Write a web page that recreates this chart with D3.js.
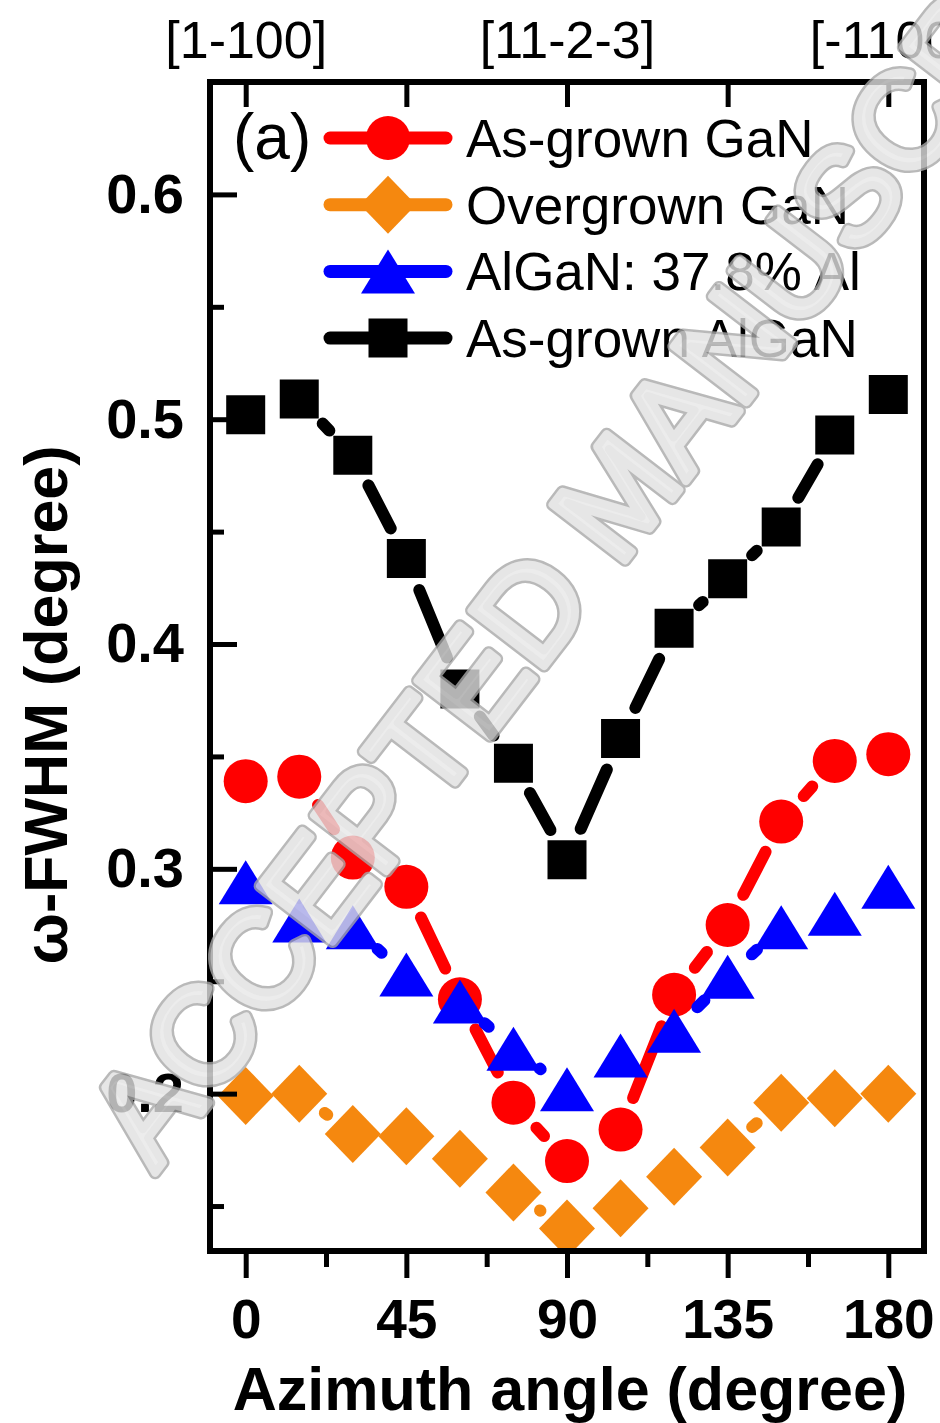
<!DOCTYPE html>
<html>
<head>
<meta charset="utf-8">
<script src="https://cdn.jsdelivr.net/npm/d3@7"></script>
<style>
  body { margin: 0; background: #fff; }
  svg { display: block; font-family: "Liberation Sans", Arial, sans-serif; }
</style>
</head>
<body>
<div id="vis-holder"></div>
<script>
// chart data
const angles = [0, 15, 30, 45, 60, 75, 90, 105, 120, 135, 150, 165, 180];
const asGrownGaN   = [0.339, 0.341, 0.305, 0.292, 0.242, 0.196, 0.170, 0.184, 0.244, 0.275, 0.321, 0.348, 0.351];
const overgrownGaN = [0.199, 0.200, 0.182, 0.181, 0.171, 0.156, 0.140, 0.149, 0.163, 0.176, 0.196, 0.198, 0.200];
const alGaN378     = [0.294, 0.277, 0.274, 0.253, 0.241, 0.220, 0.202, 0.217, 0.228, 0.252, 0.274, 0.280, 0.292];
const asGrownAlGaN = [0.502, 0.509, 0.484, 0.438, 0.380, 0.347, 0.304, 0.358, 0.407, 0.429, 0.452, 0.493, 0.511];

const seriesNames = ["As-grown GaN", "Overgrown GaN", "AlGaN: 37.8% Al", "As-grown AlGaN"];
const seriesColors = ["#ff0000", "#f5880f", "#0000ff", "#000000"];
const seriesShapes = ["circle", "diamond", "triangle", "square"];
const seriesValues = [asGrownGaN, overgrownGaN, alGaN378, asGrownAlGaN];

const xMajorTicks = [0, 45, 90, 135, 180];
const xMinorTicks = [22.5, 67.5, 112.5, 157.5];
const yMajorTicks = [0.2, 0.3, 0.4, 0.5, 0.6];
const yMinorTicks = [0.15, 0.25, 0.35, 0.45, 0.55];
const topLabels = {0: "[1-100]", 90: "[11-2-3]", 180: "[-1100]"};

const width = 940, height = 1423;
const plot = { left: 210, right: 924, top: 82, bottom: 1251 };

const svg = d3.select("#vis-holder")
  .append("svg")
  .attr("width", width)
  .attr("height", height);

const x = d3.scaleLinear().domain([-10, 190]).range([plot.left, plot.right]);
const y = d3.scaleLinear().domain([0.13, 0.65]).range([plot.bottom, plot.top]);

// clip for the data marks
svg.append("clipPath").attr("id", "plotclip")
  .append("rect")
  .attr("x", plot.left).attr("y", plot.top)
  .attr("width", plot.right - plot.left).attr("height", plot.bottom - plot.top);

// marker paths centred on 0,0
function markerPath(shape) {
  if (shape === "circle") {
    const r = 22;
    return `M${-r},0A${r},${r} 0 1,0 ${r},0A${r},${r} 0 1,0 ${-r},0Z`;
  }
  if (shape === "square") {
    const h = 19.5;
    return `M${-h},${-h}H${h}V${h}H${-h}Z`;
  }
  if (shape === "diamond") {
    const w = 28, v = 29;
    return `M0,${-v}L${w},0L0,${v}L${-w},0Z`;
  }
  // triangle, bounding box centred
  const w = 27, h = 22;
  return `M0,${-h}L${w},${h}L${-w},${h}Z`;
}

const dataLayer = svg.append("g").attr("clip-path", "url(#plotclip)");

seriesValues.forEach((vals, si) => {
  const pts = angles.map((a, i) => [x(a), y(vals[i])]);
  const g = dataLayer.append("g");
  const gap = si === 1 ? 32 : (si === 2 ? 33 : 34);

  // Origin style: line segments cut back from each symbol
  const segs = [];
  for (let i = 0; i < pts.length - 1; i++) {
    const [x1, y1] = pts[i], [x2, y2] = pts[i + 1];
    const dx = x2 - x1, dy = y2 - y1;
    const d = Math.hypot(dx, dy);
    if (d <= 2 * gap) continue;
    const ux = dx / d, uy = dy / d;
    segs.push([x1 + ux * gap, y1 + uy * gap, x2 - ux * gap, y2 - uy * gap]);
  }
  g.selectAll("line")
    .data(segs)
    .enter()
    .append("line")
    .attr("x1", d => d[0]).attr("y1", d => d[1])
    .attr("x2", d => d[2]).attr("y2", d => d[3])
    .attr("stroke", seriesColors[si])
    .attr("stroke-width", 12)
    .attr("stroke-linecap", "round");

  g.selectAll("path")
    .data(pts)
    .enter()
    .append("path")
    .attr("d", markerPath(seriesShapes[si]))
    .attr("transform", d => `translate(${d[0]},${d[1]})`)
    .attr("fill", seriesColors[si]);
});

// frame
svg.append("rect")
  .attr("x", plot.left).attr("y", plot.top)
  .attr("width", plot.right - plot.left).attr("height", plot.bottom - plot.top)
  .attr("fill", "none")
  .attr("stroke", "#000")
  .attr("stroke-width", 6);

function styleAxis(g) {
  g.select(".domain").remove();
  g.selectAll(".tick line").attr("stroke", "#000").attr("stroke-width", 5);
}

// bottom axis, ticks outward
svg.append("g")
  .attr("transform", `translate(0,${plot.bottom})`)
  .call(d3.axisBottom(x).tickValues(xMajorTicks).tickSize(27).tickPadding(21).tickFormat(d3.format("d")))
  .call(styleAxis)
  .call(g => g.selectAll("text")
    .attr("fill", "#000")
    .attr("font-size", "55px")
    .attr("font-weight", "bold")
    .attr("font-family", "Liberation Sans, Arial, sans-serif"));

svg.append("g")
  .attr("transform", `translate(0,${plot.bottom})`)
  .call(d3.axisBottom(x).tickValues(xMinorTicks).tickSize(16).tickFormat(""))
  .call(styleAxis);

// left axis, ticks inward
svg.append("g")
  .attr("transform", `translate(${plot.left},0)`)
  .call(d3.axisLeft(y).tickValues(yMajorTicks).tickSize(-27).tickPadding(26).tickFormat(d3.format(".1f")))
  .call(styleAxis)
  .call(g => g.selectAll("text")
    .attr("fill", "#000")
    .attr("font-size", "56px")
    .attr("font-weight", "bold")
    .attr("font-family", "Liberation Sans, Arial, sans-serif"));

svg.append("g")
  .attr("transform", `translate(${plot.left},0)`)
  .call(d3.axisLeft(y).tickValues(yMinorTicks).tickSize(-14).tickFormat(""))
  .call(styleAxis);

// top axis with crystal directions
svg.append("g")
  .attr("transform", `translate(0,${plot.top})`)
  .call(d3.axisTop(x).tickValues(xMajorTicks).tickSize(-25).tickPadding(24)
    .tickFormat(d => topLabels[d] || ""))
  .call(styleAxis)
  .call(g => g.selectAll("text")
    .attr("fill", "#000")
    .attr("font-size", "52px")
    .attr("font-family", "Liberation Sans, Arial, sans-serif"));

// axis titles
svg.append("text")
  .attr("x", 570).attr("y", 1410)
  .attr("text-anchor", "middle")
  .attr("font-size", 61)
  .attr("font-weight", "bold")
  .text("Azimuth angle (degree)");

svg.append("text")
  .attr("transform", "translate(67,705) rotate(-90)")
  .attr("text-anchor", "middle")
  .attr("font-size", 61)
  .attr("font-weight", "bold")
  .text("ω-FWHM (degree)");

// panel label + legend
svg.append("text")
  .attr("x", 233).attr("y", 159)
  .attr("font-size", 64)
  .text("(a)");

const legend = svg.append("g");
seriesNames.forEach((name, i) => {
  const cy = 138 + i * 66.7;
  legend.append("line")
    .attr("x1", 330).attr("x2", 446)
    .attr("y1", cy).attr("y2", cy)
    .attr("stroke", seriesColors[i])
    .attr("stroke-width", 13)
    .attr("stroke-linecap", "round");
  legend.append("path")
    .attr("d", markerPath(seriesShapes[i]))
    .attr("transform", `translate(388,${cy})`)
    .attr("fill", seriesColors[i]);
  legend.append("text")
    .attr("x", 466).attr("y", cy + 19)
    .attr("font-size", 53)
    .text(name);
});

// watermark on top
const wm = svg.append("g")
  .attr("transform", "translate(155,1173) rotate(-52.5)")
  .attr("opacity", 0.8)
  .attr("font-size", 133)
  .attr("font-family", "Liberation Sans, Arial, sans-serif");
wm.append("text")
  .attr("fill", "none")
  .attr("stroke", "#a8a8a8")
  .attr("stroke-width", 13)
  .attr("stroke-linejoin", "round")
  .text("ACCEPTED MANUSCRIPT");
wm.append("text")
  .attr("fill", "#e8e8e8")
  .attr("stroke", "#e0e0e0")
  .attr("stroke-width", 8)
  .attr("stroke-linejoin", "round")
  .text("ACCEPTED MANUSCRIPT");
</script>
</body>
</html>
